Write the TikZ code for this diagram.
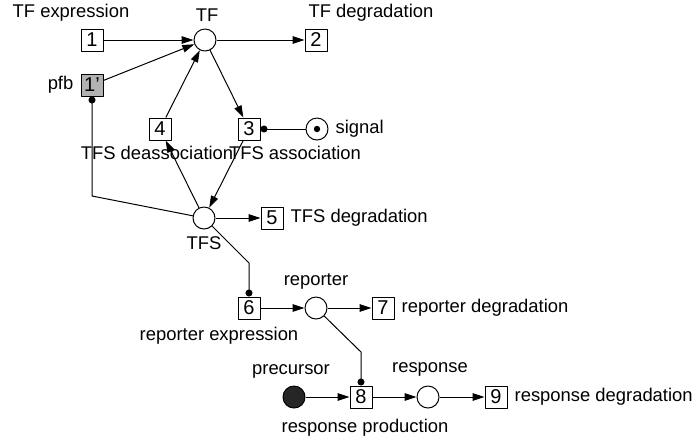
\documentclass[tikz,border=0pt]{standalone}
\usepackage{fontspec}
\setmainfont{Liberation Sans}
\usetikzlibrary{arrows.meta}
\begin{document}
\begin{tikzpicture}[x=0.5pt,y=-0.5pt,>={Triangle[length=6pt,width=3.8pt]},
		font=\fontsize{9.2}{10}\selectfont, line join=round, line width=0.5pt,
		place/.style={circle,draw,fill=white,minimum size=11pt,inner sep=0pt},
		trans/.style={rectangle,draw,fill=white,minimum size=11pt,inner sep=0pt,font=\fontsize{10}{10}\selectfont},
		up/.style={label distance=-2pt},
		dot/.style={-{Circle[length=3.5pt]}}]
		\useasboundingbox (0,0) rectangle (699,441);
		% places and transitions
		\node[trans,up,label={[xshift=-10.5pt]above:TF expression}] (t1) at (92,40) {1};
		\node[trans,fill=black!30,label=left:pfb] (t1p) at (92,85) {1'};
		\node[place,up,label={[xshift=1pt]above:TF}] (tf) at (205,40) {};
		\node[trans,up,label={[xshift=27.5pt]above:TF degradation}] (t2) at (316,40) {2};
		\node[trans,label={[xshift=-1.5pt,yshift=1pt]below:TFS deassociation}] (t4) at (160,129) {4};
		\node[trans,label={[xshift=23pt,yshift=1pt]below:TFS association}] (t3) at (249,129) {3};
		\node[place,label=right:signal] (sig) at (317,129) {};
		\fill (sig) circle (1.6pt);
		\node[place,label=below:TFS] (tfs) at (204,218) {};
		\node[trans,label=right:TFS degradation] (t5) at (272,218) {5};
		\node[trans,label={[xshift=-15pt]below:reporter expression}] (t6) at (249,308) {6};
		\node[place,up,label=above:reporter] (rep) at (316,308) {};
		\node[trans,label=right:reporter degradation] (t7) at (383,308) {7};
		\node[place,fill=black!85,up,label={[xshift=-1.5pt]above:precursor}] (pre) at (294,397) {};
		\node[trans,label={[xshift=2pt,yshift=-1.5pt]below:response production}] (t8) at (361,397) {8};
		\node[place,up,label={[xshift=1pt,yshift=1pt]above:response}] (res) at (428,397) {};
		\node[trans,label=right:response degradation] (t9) at (496,397) {9};
		% bends
		\coordinate (c1) at (92,196);
		\coordinate (c2) at (249,263);
		\coordinate (c3) at (361,352);
		% arcs
		\draw[->] (t1) -- (tf);
		\draw[->] (t1p) -- (tf);
		\draw[->] (tf) -- (t2);
		\draw[->] (tf) -- (t3);
		\draw[->] (t4) -- (tf);
		\draw[->] (t3) -- (tfs);
		\draw[->] (tfs) -- (t4);
		\draw[->] (tfs) -- (t5);
		\draw[->] (t6) -- (rep);
		\draw[->] (rep) -- (t7);
		\draw[->] (pre) -- (t8);
		\draw[->] (t8) -- (res);
		\draw[->] (res) -- (t9);
		% read arcs
		\draw[dot] (sig) -- (t3);
		\draw[dot] (tfs) -- (c1) -- (t1p);
		\draw[dot] (tfs) -- (c2) -- (t6);
		\draw[dot] (rep) -- (c3) -- (t8);
\end{tikzpicture}
\end{document}
